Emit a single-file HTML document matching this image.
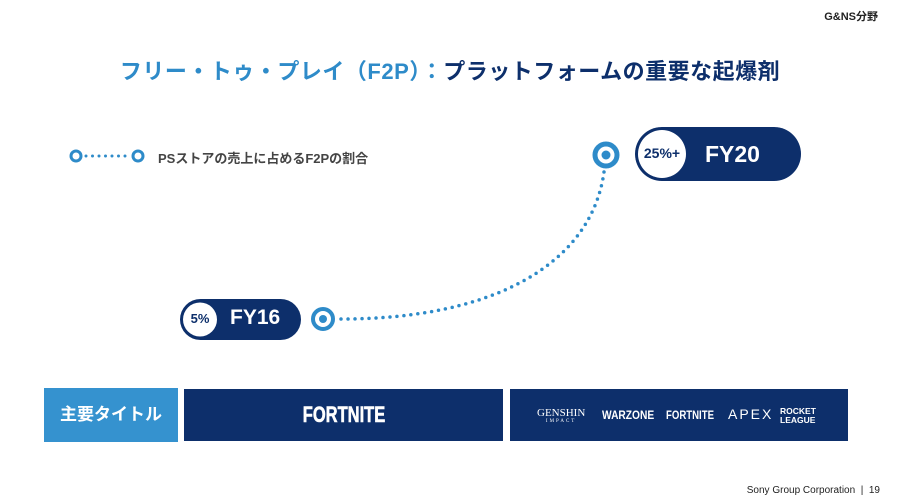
<!DOCTYPE html><html><head><meta charset="utf-8"><style>
body{margin:0;width:900px;height:503px;background:#fff;position:relative;overflow:hidden;font-family:"Liberation Sans","Noto Sans CJK JP",sans-serif}
.a{position:absolute}
</style></head><body>
<div class="a" style="right:22px;top:8px;font-size:11px;font-weight:bold;color:#222">G&amp;NS分野</div>
<div class="a" style="left:0;width:900px;top:54px;text-align:center;font-size:22px;font-weight:bold;color:#0d2f6b;letter-spacing:0.5px"><span style="color:#2e8bc9">フリー・トゥ・プレイ（F2P）：</span>プラットフォームの重要な起爆剤</div>
<svg class="a" style="left:0;top:0" width="900" height="503">
<circle cx="76" cy="156" r="5" fill="none" stroke="#2e8bc9" stroke-width="3"/>
<line x1="86" y1="156" x2="130" y2="156" stroke="#2e8bc9" stroke-width="3" stroke-dasharray="0 6.5" stroke-linecap="round"/>
<circle cx="138" cy="156" r="5" fill="none" stroke="#2e8bc9" stroke-width="3"/>
<path d="M341 319 C 500 319, 592 260, 604 172" fill="none" stroke="#2e8bc9" stroke-width="3.5" stroke-dasharray="0 7" stroke-linecap="round"/>
<circle cx="323" cy="319" r="10" fill="none" stroke="#2e8bc9" stroke-width="4"/><circle cx="323" cy="319" r="4" fill="#2e8bc9"/>
<circle cx="606" cy="155" r="11" fill="none" stroke="#2e8bc9" stroke-width="5"/><circle cx="606" cy="155" r="4.5" fill="#2e8bc9"/>
<rect x="180" y="299" width="121" height="41" rx="20.5" fill="#0d2f6b"/>
<circle cx="200" cy="319.5" r="17" fill="#fff"/>
<rect x="635" y="127" width="166" height="54" rx="27" fill="#0d2f6b"/>
<circle cx="662" cy="154" r="24" fill="#fff"/>
</svg>
<div class="a" style="left:158px;top:148px;font-size:13px;font-weight:bold;color:#444">PSストアの売上に占めるF2Pの割合</div>
<div class="a" style="left:183px;top:311px;width:34px;text-align:center;font-size:13px;font-weight:bold;color:#0d2f6b">5%</div>
<div class="a" style="left:230px;top:306px;font-size:21px;font-weight:bold;color:#fff">FY16</div>
<div class="a" style="left:638px;top:145px;width:48px;text-align:center;font-size:14px;font-weight:bold;color:#0d2f6b">25%+</div>
<div class="a" style="left:705px;top:141px;font-size:23px;font-weight:bold;color:#fff">FY20</div>
<div class="a" style="left:44px;top:388px;width:134px;height:54px;background:#3592cf;color:#fff;font-size:17px;font-weight:bold;line-height:54px;text-align:center">主要タイトル</div>
<div class="a" style="left:184px;top:389px;width:319px;height:52px;background:#0d2f6b;color:#fff;text-align:center;line-height:52px;font-size:22px;font-weight:bold"><span style="display:inline-block;transform:scaleX(0.75);-webkit-text-stroke:0.6px #fff">FORTNITE</span></div>
<div class="a" style="left:510px;top:389px;width:338px;height:52px;background:#0d2f6b;color:#fff;font-weight:bold">
<div class="a" style="left:27px;top:18px;font-size:11px;font-family:'Liberation Serif',serif;font-weight:normal">GENSHIN<div style="font-size:5px;text-align:center;letter-spacing:2px">IMPACT</div></div>
<div class="a" style="left:92px;top:19px;font-size:12px;transform:scaleX(0.85);transform-origin:left">WARZONE</div>
<div class="a" style="left:156px;top:19px;font-size:12px;transform:scaleX(0.8);transform-origin:left">FORTNITE</div>
<div class="a" style="left:218px;top:17px;font-size:14px;letter-spacing:2px;font-weight:normal">APEX</div>
<div class="a" style="left:270px;top:18px;font-size:8.5px;line-height:8.5px">ROCKET<br>LEAGUE</div>
</div>
<div class="a" style="right:20px;top:485px;font-size:10px;color:#222">Sony Group Corporation &nbsp;|&nbsp; 19</div>
</body></html>
